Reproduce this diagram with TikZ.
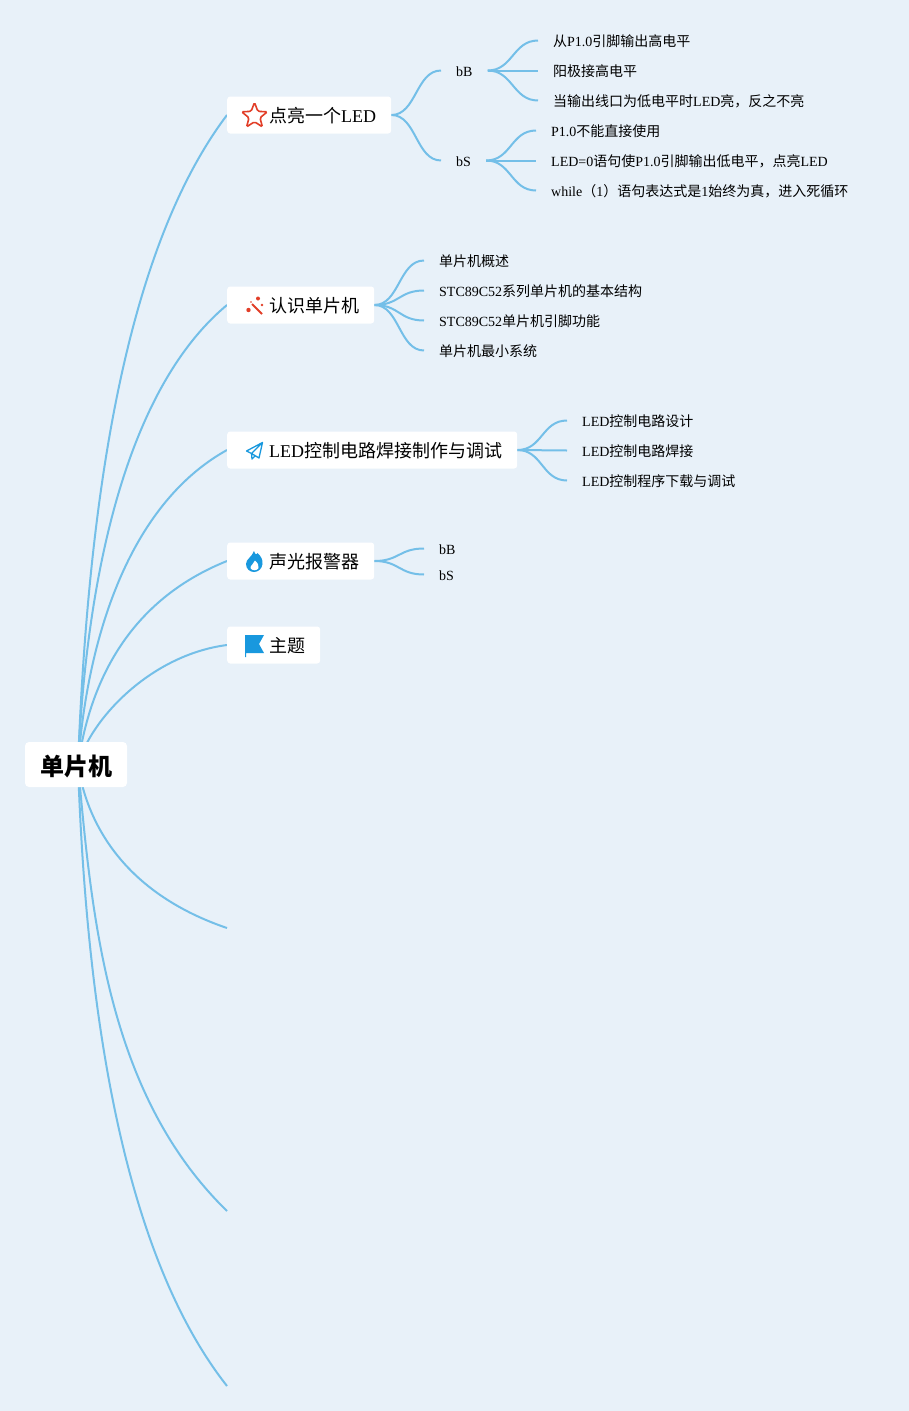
\documentclass[tikz,border=0pt]{standalone}
\usepackage{fontspec}
\setmainfont{Liberation Serif}
\newfontfamily\zh{Noto Sans CJK SC}
\usetikzlibrary{shapes.geometric}
\pgfdeclarelayer{back}
\pgfsetlayers{back,main}
\definecolor{pagebg}{RGB}{232,241,249}
\definecolor{linkblue}{RGB}{116,191,232}
\definecolor{iconred}{RGB}{226,62,40}
\definecolor{iconblue}{RGB}{24,152,222}
\tikzset{
  link/.style={draw=linkblue, line width=2pt},
  rootbox/.style={fill=white, rounded corners=4pt, minimum width=102pt, minimum height=45pt, inner sep=0pt, text height=22pt, text depth=1pt, font=\fontsize{24}{28}\selectfont\zh\bfseries},
  topicbox/.style={fill=white, rounded corners=3pt, anchor=west, minimum height=37pt, inner xsep=15pt, inner ysep=0pt, text height=17pt, text depth=2pt, font=\fontsize{18}{22}\selectfont},
  leaf/.style={anchor=west, inner xsep=15pt, inner ysep=0pt, text height=13pt, text depth=2pt, font=\fontsize{14}{16}\selectfont}
}
\begin{document}
\begin{tikzpicture}[x=1pt, y=-1pt]
  \useasboundingbox (0,0) rectangle (909,1411);

  \node[rootbox] (root) at (76,764.5) {单片机};
  \coordinate (hub) at (78,765);

  \node[topicbox] (led) at (227,115) {\hspace{27pt}{\zh 点亮一个}LED};
  \node[topicbox] (know) at (227,305) {\hspace{27pt}{\zh 认识单片机}};
  \node[topicbox] (weld) at (227,450) {\hspace{27pt}LED{\zh 控制电路焊接制作与调试}};
  \node[topicbox] (alarm) at (227,561) {\hspace{27pt}{\zh 声光报警器}};
  \node[topicbox] (theme) at (227,645) {\hspace{27pt}{\zh 主题}};

  \coordinate (endA) at (227,928);
  \coordinate (endB) at (227,1211);
  \coordinate (endC) at (227,1386);

  \node[leaf] (ledB) at (441,70.5) {bB};
  \node[leaf] (ledS) at (441,160.5) {bS};

  \node[leaf] (b1) at (538,40.5) {{\zh 从}P1.0{\zh 引脚输出高电平}};
  \node[leaf] (b2) at (538,70.5) {{\zh 阳极接高电平}};
  \node[leaf] (b3) at (538,100.5) {{\zh 当输出线口为低电平时}LED{\zh 亮，反之不亮}};
  \node[leaf] (s1) at (536,130.5) {P1.0{\zh 不能直接使用}};
  \node[leaf] (s2) at (536,160.5) {LED=0{\zh 语句使}P1.0{\zh 引脚输出低电平，点亮}LED};
  \node[leaf] (s3) at (536,190.5) {while{\zh （}1{\zh ）语句表达式是}1{\zh 始终为真，进入死循环}};

  \node[leaf] (k1) at (424,260.5) {{\zh 单片机概述}};
  \node[leaf] (k2) at (424,290.5) {STC89C52{\zh 系列单片机的基本结构}};
  \node[leaf] (k3) at (424,320.5) {STC89C52{\zh 单片机引脚功能}};
  \node[leaf] (k4) at (424,350.5) {{\zh 单片机最小系统}};

  \node[leaf] (w1) at (567,420.5) {LED{\zh 控制电路设计}};
  \node[leaf] (w2) at (567,450.5) {LED{\zh 控制电路焊接}};
  \node[leaf] (w3) at (567,480.5) {LED{\zh 控制程序下载与调试}};

  \node[leaf] (a1) at (424,548.5) {bB};
  \node[leaf] (a2) at (424,574.5) {bS};

  % icons
  \node[star, star points=5, star point ratio=2.35, minimum size=27pt, inner sep=0pt, draw=iconred, line width=1.6pt, rounded corners=1.5pt] (icon1) at (254.5,116) {};
  \draw[iconred, line width=2pt] (252,304) -- (262,314);
  \fill[iconred] (248.5,310) circle (2.2pt) (258,298.5) circle (2pt) (262,305) circle (1.3pt) (251,302) circle (0.9pt);
  \draw[iconblue, line width=1.3pt, line join=round] (262.5,442.5) -- (246.5,451) -- (251.5,453.5) -- (262.5,442.5) -- (259,458) -- (251.5,453.5) -- (252,459) -- (255.5,455.5);
  \fill[iconblue] (254,551) .. controls (255,556) and (258,554) .. (257.5,553) .. controls (261,556) and (263,560) .. (262.5,564) .. controls (262,569) and (258,572) .. (254,572) .. controls (250,572) and (246,569) .. (246,564) .. controls (246,559) and (252,557) .. (254,551) -- cycle;
  \fill[white] (255,560.5) .. controls (258,563) and (259,566) .. (258.5,568) .. controls (257.5,571) and (251.5,571) .. (250.5,568) .. controls (250,565.5) and (254,564) .. (255,560.5) -- cycle;
  \fill[iconblue] (245,635) -- (264,635) -- (259,644) -- (264,653) -- (246,653) -- (246,657) -- (245,657) -- cycle;

  \begin{pgfonlayer}{back}
    \fill[pagebg] (0,0) rectangle (909,1411);
    \draw[link] (hub) .. controls (88,500) and (125,250) .. (led.west);
    \draw[link] (hub) .. controls (86,580) and (125,390) .. (know.west);
    \draw[link] (hub) .. controls (87,640) and (128,505) .. (weld.west);
    \draw[link] (hub) .. controls (90,680) and (130,600) .. (alarm.west);
    \draw[link] (hub) .. controls (90,720) and (150,655) .. (theme.west);
    \draw[link] (hub) .. controls (88,830) and (130,895) .. (endA);
    \draw[link] (hub) .. controls (92,920) and (108,1095) .. (endB);
    \draw[link] (hub) .. controls (86,1000) and (120,1250) .. (endC);

    \foreach \from/\to in {led/ledB, led/ledS, know/k1, know/k2, know/k3, know/k4, weld/w1, weld/w2, weld/w3, alarm/a1, alarm/a2, ledB/b1, ledB/b2, ledB/b3, ledS/s1, ledS/s2, ledS/s3}
      \draw[link] (\from.east) .. controls +(25,0) and +(-25,0) .. (\to.west);
  \end{pgfonlayer}
\end{tikzpicture}
\end{document}
